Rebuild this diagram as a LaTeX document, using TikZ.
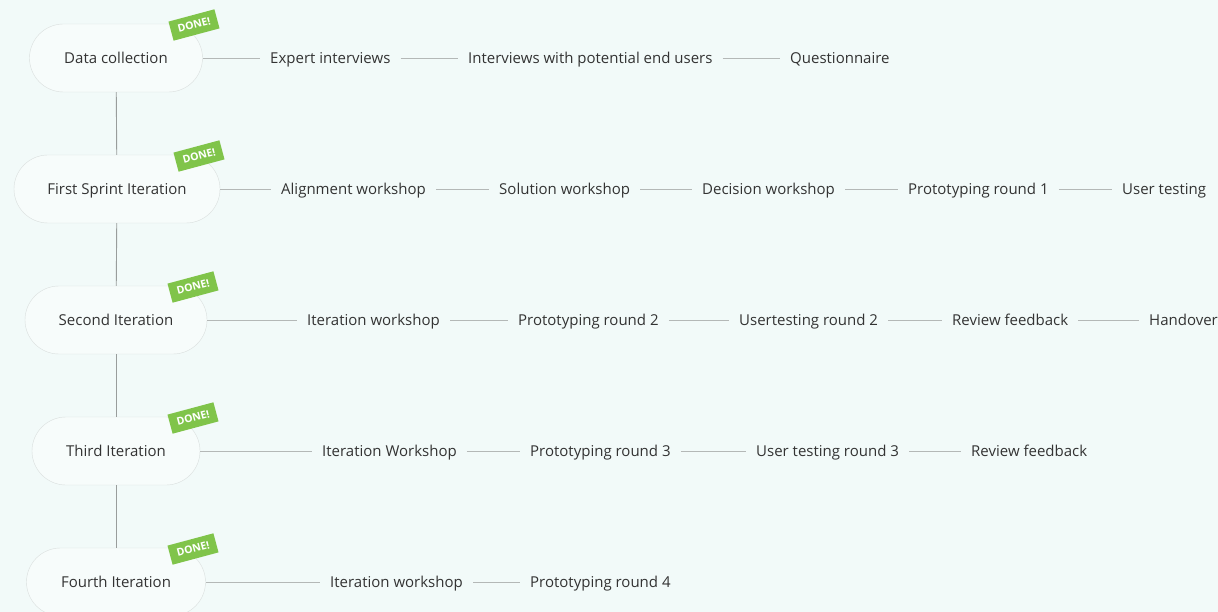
\documentclass[tikz,border=0pt]{standalone}
\usepackage{fontspec}
\setmainfont{Open Sans}
\usepackage{tikz}
\usetikzlibrary{positioning}
\definecolor{bgmint}{HTML}{F2FAF9}
\definecolor{pillline}{HTML}{DADFDE}
\definecolor{linkgray}{HTML}{B4B8B7}
\definecolor{stemgray}{HTML}{999D9C}
\definecolor{donegreen}{HTML}{80C44A}
\definecolor{txt}{HTML}{333333}
\tikzset{x=1pt, y=-1pt,
phase/.style={ % Sets the properties for each phase pill
draw=pillline,
fill=bgmint!60!white,
rounded corners=34pt,
minimum height=68pt,
text height=13pt, text depth=2pt,
text=txt,
font=\fontsize{15}{18}\selectfont},
task/.style={ % Tasks to the right of a phase
anchor=west,
inner xsep=10pt,
text height=13pt, text depth=2pt,
text=txt,
font=\fontsize{15}{18}\selectfont},
done/.style={ % Green badge
fill=donegreen,
text=white,
rotate=15,
inner xsep=7pt, inner ysep=6pt,
font=\bfseries\fontsize{10.5}{12}\selectfont},
link/.style={draw=linkgray, line width=0.9pt},
stem/.style={draw=stemgray, line width=0.9pt}}

\begin{document}
\begin{tikzpicture}
\useasboundingbox[fill=bgmint] (0,0) rectangle (1218,612);
% phases
\node[phase, minimum width=173pt] (dc) at (116,58) {Data collection};
\node[phase, minimum width=206pt] (fsi) at (117,189) {First Sprint Iteration};
\node[phase, minimum width=182pt] (si) at (116,320) {Second Iteration};
\node[phase, minimum width=168pt] (ti) at (116,451) {Third Iteration};
\node[phase, minimum width=179pt] (fi) at (116,582) {Fourth Iteration};
\draw[stem] (dc) -- (fsi);
\draw[stem] (fsi) -- (si);
\draw[stem] (si) -- (ti);
\draw[stem] (ti) -- (fi);
% badges
\node[done] (dcd) at (194,25) {DONE!};
\node[done] (fsid) at (199,156) {DONE!};
\node[done] (sid) at (193,287) {DONE!};
\node[done] (tid) at (193,418) {DONE!};
\node[done] (fid) at (193,549) {DONE!};
% row 1
\node[task] (dc1) at (260,58) {Expert interviews};
\node[task] (dc2) at (458,58) {Interviews with potential end users};
\node[task] (dc3) at (780,58) {Questionnaire};
\draw[link] (dc) -- (dc1);
\draw[link] (dc1) -- (dc2);
\draw[link] (dc2) -- (dc3);
% row 2
\node[task] (fsi1) at (271,189) {Alignment workshop};
\node[task] (fsi2) at (489,189) {Solution workshop};
\node[task] (fsi3) at (692,189) {Decision workshop};
\node[task] (fsi4) at (898,189) {Prototyping round 1};
\node[task] (fsi5) at (1112,189) {User testing};
\draw[link] (fsi) -- (fsi1);
\draw[link] (fsi1) -- (fsi2);
\draw[link] (fsi2) -- (fsi3);
\draw[link] (fsi3) -- (fsi4);
\draw[link] (fsi4) -- (fsi5);
% row 3
\node[task] (si1) at (297,320) {Iteration workshop};
\node[task] (si2) at (508,320) {Prototyping round 2};
\node[task] (si3) at (729,320) {Usertesting round 2};
\node[task] (si4) at (942,320) {Review feedback};
\node[task] (si5) at (1139,320) {Handover};
\draw[link] (si) -- (si1);
\draw[link] (si1) -- (si2);
\draw[link] (si2) -- (si3);
\draw[link] (si3) -- (si4);
\draw[link] (si4) -- (si5);
% row 4
\node[task] (ti1) at (312,451) {Iteration Workshop};
\node[task] (ti2) at (520,451) {Prototyping round 3};
\node[task] (ti3) at (746,451) {User testing round 3};
\node[task] (ti4) at (961,451) {Review feedback};
\draw[link] (ti) -- (ti1);
\draw[link] (ti1) -- (ti2);
\draw[link] (ti2) -- (ti3);
\draw[link] (ti3) -- (ti4);
% row 5
\node[task] (fi1) at (320,582) {Iteration workshop};
\node[task] (fi2) at (520,582) {Prototyping round 4};
\draw[link] (fi) -- (fi1);
\draw[link] (fi1) -- (fi2);
\end{tikzpicture}
\end{document}
